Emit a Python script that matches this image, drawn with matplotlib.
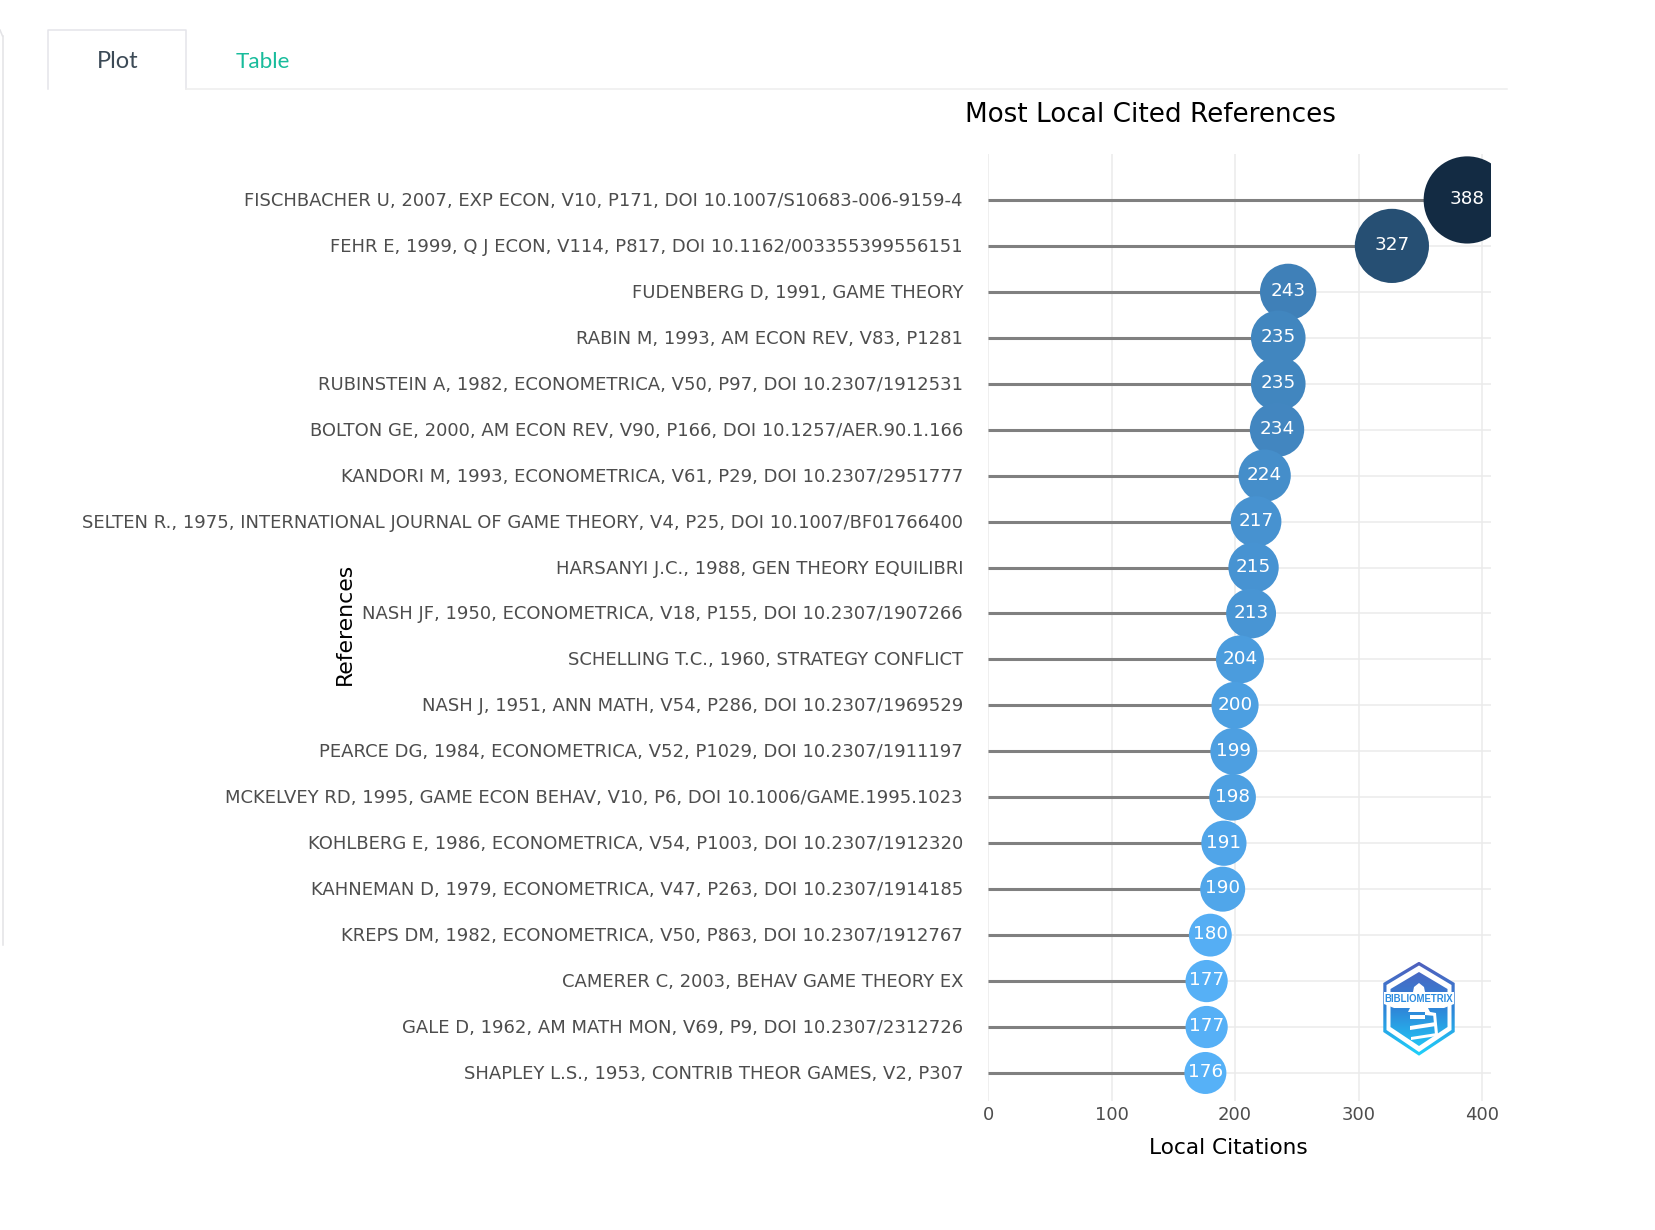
import numpy as np
import matplotlib.pyplot as plt
from matplotlib.colors import LinearSegmentedColormap
from matplotlib.patches import Polygon
from matplotlib.transforms import ScaledTranslation

#----------------------------Data----------------------------------------------#
references = [
    'FISCHBACHER U, 2007, EXP ECON, V10, P171, DOI 10.1007/S10683-006-9159-4',
    'FEHR E, 1999, Q J ECON, V114, P817, DOI 10.1162/003355399556151',
    'FUDENBERG D, 1991, GAME THEORY',
    'RABIN M, 1993, AM ECON REV, V83, P1281',
    'RUBINSTEIN A, 1982, ECONOMETRICA, V50, P97, DOI 10.2307/1912531',
    'BOLTON GE, 2000, AM ECON REV, V90, P166, DOI 10.1257/AER.90.1.166',
    'KANDORI M, 1993, ECONOMETRICA, V61, P29, DOI 10.2307/2951777',
    'SELTEN R., 1975, INTERNATIONAL JOURNAL OF GAME THEORY, V4, P25, DOI 10.1007/BF01766400',
    'HARSANYI J.C., 1988, GEN THEORY EQUILIBRI',
    'NASH JF, 1950, ECONOMETRICA, V18, P155, DOI 10.2307/1907266',
    'SCHELLING T.C., 1960, STRATEGY CONFLICT',
    'NASH J, 1951, ANN MATH, V54, P286, DOI 10.2307/1969529',
    'PEARCE DG, 1984, ECONOMETRICA, V52, P1029, DOI 10.2307/1911197',
    'MCKELVEY RD, 1995, GAME ECON BEHAV, V10, P6, DOI 10.1006/GAME.1995.1023',
    'KOHLBERG E, 1986, ECONOMETRICA, V54, P1003, DOI 10.2307/1912320',
    'KAHNEMAN D, 1979, ECONOMETRICA, V47, P263, DOI 10.2307/1914185',
    'KREPS DM, 1982, ECONOMETRICA, V50, P863, DOI 10.2307/1912767',
    'CAMERER C, 2003, BEHAV GAME THEORY EX',
    'GALE D, 1962, AM MATH MON, V69, P9, DOI 10.2307/2312726',
    'SHAPLEY L.S., 1953, CONTRIB THEOR GAMES, V2, P307',
]
citations = [388, 327, 243, 235, 235, 234, 224, 217, 215, 213,
             204, 200, 199, 198, 191, 190, 180, 177, 177, 176]
x_ticks = [0, 100, 200, 300, 400]

#----------------------------Setup---------------------------------------------#
W, H = 1655, 1230
fig = plt.figure(figsize=(W / 100, H / 100), dpi=100)
plt.rcParams['font.family'] = ['DejaVu Sans']


def px_box(x0, y0, x1, y1):
    # pixel box (from top left) to figure fractions
    return [x0 / W, 1 - y1 / H, (x1 - x0) / W, (y1 - y0) / H]


def fx(x):
    return x / W


def fy(y):
    return 1 - y / H


#----------------------------Page furniture (tabs)-----------------------------#
bg = fig.add_axes([0, 0, 1, 1])
bg.set_xlim(0, W)
bg.set_ylim(H, 0)
bg.axis('off')
bg.plot([2.5, 2.5], [36, 945], color='#e3e3e6', lw=1.1)
bg.plot([0, 2.5], [30, 36], color='#e3e3e6', lw=1.1)
bg.plot([48, 48, 186, 186], [89, 30, 30, 89], color='#e4e4ea', lw=1.1)
bg.plot([186, 1507], [89, 89], color='#eeeeee', lw=1.1)
bg.text(117.5, 62, 'Plot', fontsize=17, family='Lato', color='#3c4a56',
        ha='center', va='center')
bg.text(262.5, 62, 'Table', fontsize=16.2, family='Lato', color='#18bc9c',
        ha='center', va='center')

#----------------------------Chart---------------------------------------------#
ax = fig.add_axes(px_box(988, 154, 1490.7, 1101))
ax.set_xlim(0, 407)
ax.set_ylim(19.61, -1)
ax.set_facecolor('none')

for s in ax.spines.values():
    s.set_visible(False)

ax.set_axisbelow(True)
ax.grid(True, color='#ebebeb', lw=1.1)
ax.set_xticks(x_ticks)
ax.set_yticks(range(len(references)))
ax.set_yticklabels(references, va='center')
ax.tick_params(axis='both', length=0, labelcolor='#4d4d4d', labelsize=13)
ax.tick_params(axis='y', pad=18)
ax.tick_params(axis='x', pad=3.4)
# labels sat one pixel high
nudge = ScaledTranslation(0, -1 / 100, fig.dpi_scale_trans)
for lab in ax.get_yticklabels():
    lab.set_transform(lab.get_transform() + nudge)

vals = np.array(citations, dtype=float)
cmap = LinearSegmentedColormap.from_list(
    'bibl', [(0, '#56B1F7'), (0.113, '#4c9ee0'), (0.316, '#3f80b8'),
             (0.712, '#264f73'), (1, '#132B43')])
radius = 21 + 0.1066 * (vals - vals.min())
sizes = (2 * radius * 0.72) ** 2
ypos = np.arange(len(vals))

ax.hlines(ypos, 0, vals, color='#808080', lw=2.2, zorder=2)
ax.scatter(vals, ypos, s=sizes, c=vals, cmap=cmap, linewidths=0, zorder=3)

for v, y in zip(citations, ypos):
    ax.annotate(str(v), (v, y), xytext=(0, 0.5), textcoords='offset points',
                color='white', fontsize=13.2, ha='center', va='center',
                zorder=4, annotation_clip=False)

fig.text(fx(1150), fy(115), 'Most Local Cited References', fontsize=18.95,
         color='black', ha='center', va='center')
fig.text(fx(1228), fy(1148), 'Local Citations', fontsize=15.6,
         color='black', ha='center', va='center')
fig.text(fx(345), fy(624), 'References', fontsize=15.8, color='black',
         rotation=90, ha='center', va='center')

#----------------------------Logo----------------------------------------------#
lx0, lx1, ly0, ly1 = 1380, 1458, 958, 1059
logo = fig.add_axes(px_box(lx0, ly0, lx1, ly1), zorder=5)
logo.set_xlim(lx0, lx1)
logo.set_ylim(ly1, ly0)
logo.axis('off')
cm_logo = LinearSegmentedColormap.from_list('logo', ['#5060bd', '#2f86d8', '#1fd2fb'])
grad = np.linspace(0, 1, 200).reshape(-1, 1)


def hexagon(cx, top, bot, half, sh_top, sh_bot):
    return [(cx, top), (cx + half, sh_top), (cx + half, sh_bot), (cx, bot),
            (cx - half, sh_bot), (cx - half, sh_top)]


def grad_fill(pts, z):
    im = logo.imshow(grad, cmap=cm_logo, aspect='auto',
                     extent=(lx0, lx1, 1056, 962), zorder=z)
    im.set_clip_path(Polygon(pts, transform=logo.transData))


logo.set_autoscale_on(False)
grad_fill(hexagon(1419, 961.7, 1055.7, 35.7, 983, 1032), 1)
logo.add_patch(Polygon(hexagon(1419, 965.5, 1052, 32.5, 985, 1030),
                       fc='white', ec='none', zorder=2))
grad_fill(hexagon(1419, 972, 1046, 28.5, 989, 1027), 3)
# white band with the name, and the lighthouse
logo.add_patch(Polygon([(1384, 992), (1454, 992), (1454, 1004), (1444, 1008),
                        (1394, 1008), (1384, 1004)], fc='white', ec='none', zorder=4))
logo.text(1419, 998.5, 'BIBLIOMETRIX', fontsize=6.9, fontweight='bold',
          color='#2c8ce0', ha='center', va='center', zorder=6,
          family='Liberation Sans')
logo.add_patch(Polygon([(1413, 992), (1414, 987), (1419, 983), (1424, 987), (1425, 992)],
                       fc='white', ec='none', zorder=5))
logo.add_patch(Polygon([(1410, 1008), (1412, 1003), (1426, 1003), (1428, 1008),
                        (1430, 1012), (1408, 1012)], fc='white', ec='none', zorder=5))
for pts in ([(1425, 1011), (1436, 1013), (1436, 1016), (1425, 1015)],
            [(1433, 1013), (1436, 1013), (1437, 1024), (1434, 1024)],
            [(1410, 1026), (1436, 1022), (1436, 1026), (1410, 1030)],
            [(1434, 1024), (1437, 1024), (1438, 1034), (1435, 1035)],
            [(1411, 1037), (1437, 1033), (1437, 1036), (1411, 1040)],
            [(1410, 1015), (1425, 1015), (1425, 1019), (1410, 1019)]):
    logo.add_patch(Polygon(pts, fc='white', ec='none', zorder=5))

fig.savefig('out.png', dpi=100, facecolor='white')
